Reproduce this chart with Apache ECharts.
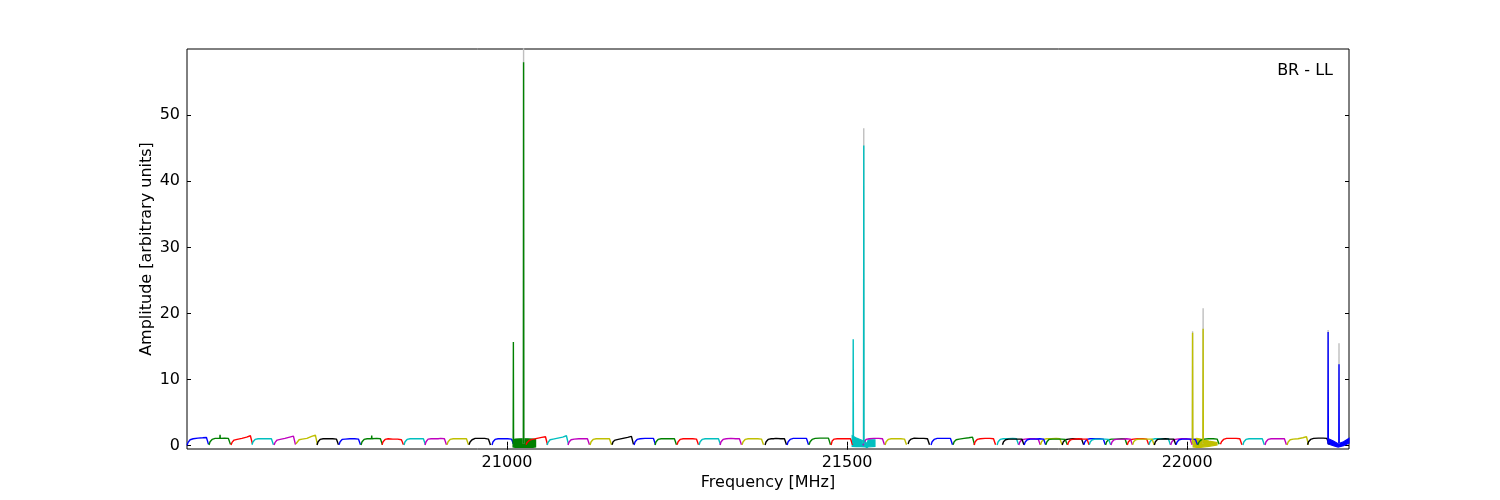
<!DOCTYPE html>
<html><head><meta charset="utf-8">
<script src="https://cdn.jsdelivr.net/npm/echarts@6/dist/echarts.min.js"></script>
<style>html,body{margin:0;padding:0;background:#fff}#c{width:1500px;height:500px}</style>
</head><body><div id="c"></div>
<script>
// ---------- data ----------
const xMin = 20529.4, xMax = 22238;
const yMin = -0.5, yMax = 60;
const xTicks = [21000, 21500, 22000];
const yTicks = [0, 10, 20, 30, 40, 50];
const panelLabel = 'BR - LL';
const xName = 'Frequency [MHz]';
const yName = 'Amplitude [arbitrary units]';

// offsets (MHz) from window start at which each window level is read
const sampleOffsets = [0, 1.5, 4.5, 9, 16, 23, 28.5, 31.5];

// spectral windows (non-flagged)
const winStart = [
  20529.5, 20561.8, 20594.1, 20625.0, 20657.4, 20689.7, 20720.6, 20753.0, 20785.3, 20816.2,
  20848.5, 20879.4, 20911.8, 20944.1, 20977.9, 21028.0, 21058.8, 21089.7, 21122.1, 21154.4,
  21186.8, 21217.6, 21250.0, 21282.4, 21313.2, 21345.6, 21379.4, 21411.8, 21444.1, 21476.5,
  21523.5, 21555.9, 21589.7, 21623.5, 21655.9, 21686.8,
  21720.6, 21752.5, 21784.4, 21816.3, 21848.2, 21880.1, 21912.0, 21943.9, 21975.8,
  21728.5, 21760.4, 21792.3, 21824.2, 21856.1, 21888.0, 21919.9, 21951.8, 21983.7, 22015.6,
  22049.0, 22082.0, 22114.5, 22147.0, 22177.0
];
const winColor = [
  'b','g','r','c','m','y','k','b','g','r',
  'c','m','y','k','b','r','c','m','y','k',
  'b','g','r','c','m','y','k','b','g','r',
  'm','y','k','b','g','r',
  'c','m','y','k','b','g','r','c','m',
  'k','b','g','r','c','m','y','k','b','g',
  'r','c','m','y','k'
];
const winLevels = [
  [0.05,0.5,0.9,1.05,1.15,1.2,1.25,0.2],
  [0.1,0.6,0.95,1.1,1.1,1.15,1.1,0.2],
  [0.1,0.5,0.85,0.95,1.1,1.3,1.5,0.3],
  [0.15,0.6,0.95,1.05,1.05,1.05,1.05,0.15],
  [0.1,0.5,0.85,0.95,1.1,1.3,1.45,0.15],
  [0.3,0.6,0.9,1.0,1.1,1.4,1.6,0.15],
  [0.1,0.6,0.95,1.05,1.05,1.05,1.0,0.15],
  [0.15,0.6,0.95,1.0,1.05,1.05,1.0,0.15],
  [0.1,0.6,0.95,1.05,1.05,1.1,1.05,0.15],
  [0.15,0.6,0.95,1.05,1.0,1.0,0.9,0.15],
  [0.1,0.6,0.95,1.05,1.05,1.05,1.05,0.15],
  [0.1,0.6,1.0,1.05,1.05,1.1,1.05,0.15],
  [0.15,0.6,0.95,1.05,1.05,1.05,1.05,0.15],
  [0.15,0.55,0.9,1.1,1.1,1.1,1.0,0.1],
  [0.1,0.6,0.95,1.05,1.05,1.05,1.0,0.3],
  [0.15,0.5,0.8,0.95,1.1,1.25,1.35,0.15],
  [0.1,0.5,0.9,1.0,1.15,1.3,1.5,0.2],
  [0.1,0.55,0.9,1.0,1.05,1.05,1.05,0.15],
  [0.1,0.6,0.95,1.05,1.05,1.05,1.05,0.15],
  [0.15,0.6,0.85,0.95,1.1,1.25,1.4,0.2],
  [0.1,0.6,0.95,1.05,1.1,1.1,1.1,0.15],
  [0.1,0.6,0.95,1.05,1.05,1.05,1.05,0.15],
  [0.15,0.6,0.95,1.05,1.05,1.05,1.0,0.15],
  [0.1,0.6,0.95,1.05,1.05,1.05,1.05,0.15],
  [0.1,0.6,0.95,1.05,1.1,1.05,1.05,0.15],
  [0.15,0.6,0.95,1.05,1.05,1.05,1.0,0.15],
  [0.1,0.6,0.95,1.05,1.1,1.05,1.05,0.15],
  [0.1,0.6,0.95,1.1,1.1,1.1,1.1,0.15],
  [0.15,0.6,0.95,1.1,1.15,1.15,1.15,0.15],
  [0.1,0.7,1.0,1.05,1.05,1.05,1.05,0.15],
  [0.05,0.6,0.95,1.05,1.1,1.1,1.05,0.15],
  [0.1,0.6,0.95,1.05,1.05,1.05,1.0,0.15],
  [0.25,0.7,1.0,1.15,1.1,1.1,1.05,0.15],
  [0.1,0.6,0.95,1.1,1.1,1.1,1.1,0.15],
  [0.15,0.6,0.9,1.0,1.1,1.2,1.3,0.15],
  [0.1,0.6,0.95,1.05,1.1,1.1,1.05,0.15],
  [0.1,0.6,0.95,1.05,1.05,1.1,1.05,0.15],
  [0.1,0.55,0.9,1.0,1.05,1.05,1.0,0.15],
  [0.15,0.6,0.95,1.05,1.05,1.1,1.05,0.2],
  [0.1,0.55,0.9,1.0,1.05,1.0,1.0,0.15],
  [0.15,0.6,0.95,1.05,1.05,1.05,1.0,0.15],
  [0.1,0.6,0.9,1.0,1.0,1.05,1.05,0.15],
  [0.1,0.55,0.9,1.0,1.05,1.05,1.0,0.15],
  [0.15,0.6,0.95,1.05,1.05,1.05,1.05,0.15],
  [0.1,0.55,0.9,1.0,1.05,1.05,1.0,0.15],
  [0.15,0.6,0.9,1.0,1.0,1.0,1.0,0.15],
  [0.1,0.55,0.9,1.0,1.0,1.05,1.0,0.15],
  [0.15,0.6,0.95,1.0,1.0,1.0,0.95,0.15],
  [0.1,0.55,0.9,1.0,1.05,1.0,1.0,0.15],
  [0.15,0.6,0.9,1.0,1.0,1.0,0.95,0.15],
  [0.1,0.55,0.9,1.0,1.0,1.05,1.0,0.15],
  [0.15,0.6,0.9,1.0,1.0,1.0,1.0,0.15],
  [0.1,0.6,0.95,1.0,1.05,1.0,1.0,0.15],
  [0.15,0.55,0.9,1.0,1.0,1.0,0.95,0.15],
  [0.1,0.5,0.85,1.0,1.05,1.05,1.0,0.2],
  [0.2,0.6,0.95,1.1,1.1,1.1,1.05,0.15],
  [0.1,0.6,0.95,1.05,1.05,1.05,1.05,0.15],
  [0.1,0.6,0.95,1.05,1.05,1.05,1.05,0.15],
  [0.1,0.55,0.9,1.0,1.05,1.2,1.35,0.15],
  [0.15,0.6,0.95,1.1,1.15,1.15,1.1,0.2]
];
// narrow RFI ticks inside good windows: [freq, base, peak, window index]
const smallSpikes = [
  [20578.0, 1.1, 1.65, 1],
  [20801.0, 1.05, 1.55, 8],
  [20899.0, 1.05, 1.35, 11],
  [21392.0, 1.05, 1.25, 26]
];

// flagged (noisy) windows: envelope of the dense data
const blockColor = ['g', 'c', 'y', 'b'];
const blockFreq = [
  [21008.8, 21012, 21020, 21030, 21038, 21042],
  [21507.5, 21513, 21520, 21527, 21529, 21531, 21541],
  [22008.8, 22014, 22020, 22032, 22044],
  [22207.0, 22215, 22222, 22230, 22238]
];
const blockLo = [
  [-0.2, -0.25, -0.25, -0.25, -0.25, -0.2],
  [-0.1, -0.15, -0.15, -0.2, -0.3, -0.2, -0.1],
  [-0.2, -0.25, -0.25, -0.1, 0.1],
  [0.3, 0.0, -0.2, 0.0, 0.4]
];
const blockHi = [
  [0.9, 1.0, 1.05, 1.05, 1.0, 0.9],
  [1.5, 1.2, 0.9, 0.6, 0.2, 0.9, 0.9],
  [0.9, 1.1, 1.0, 0.7, 0.5],
  [1.1, 0.7, 0.3, 0.6, 1.1]
];
// strong spikes in the flagged windows: [freq, peak, block index]
const spikes = [
  [21009.3, 15.7, 0], [21024.3, 58.0, 0],
  [21509.0, 16.1, 1], [21524.5, 45.4, 1],
  [22008.0, 17.1, 2], [22023.5, 17.7, 2],
  [22207.3, 17.2, 3], [22223.3, 12.3, 3]
];
// un-normalised spectrum (grey, drawn underneath)
const greySpikeFreq = [21024.3, 21524.5, 22008.0, 22023.5, 22207.3, 22223.3];
const greySpikePeak = [62.0, 48.0, 17.3, 20.8, 17.5, 15.5];

// ---------- styling ----------
const palette = {b:'#0000ff', g:'#008000', r:'#ff0000', c:'#00bfbf', m:'#bf00bf', y:'#bfbf00', k:'#000000'};
const FONT = 'DejaVu Sans';
const LW = 1.4;

const series = [];
const lineBase = {type:'line', xAxisIndex:0, yAxisIndex:0, showSymbol:false, symbol:'none', silent:true, animation:false, clip:true};

greySpikeFreq.forEach((f, i) => {
  series.push(Object.assign({}, lineBase, {
    data: [[f - 0.3, 0.3], [f, greySpikePeak[i]], [f + 0.3, 0.3]],
    lineStyle: {color:'#bfbfbf', width:LW}
  }));
});

winStart.forEach((s, i) => {
  const pts = sampleOffsets.map((o, j) => [s + o, winLevels[i][j]]);
  smallSpikes.filter(p => p[3] === i).forEach(p => {
    pts.push([p[0] - 0.35, p[1]], [p[0], p[2]], [p[0] + 0.35, p[1]]);
  });
  pts.sort((a, b) => a[0] - b[0]);
  series.push(Object.assign({}, lineBase, {
    data: pts,
    lineStyle: {color: palette[winColor[i]], width: LW}
  }));
});

series.push({
  type:'custom', xAxisIndex:0, yAxisIndex:0, silent:true, animation:false,
  data: blockColor.map((c, i) => [blockFreq[i][0], 0, i]),
  renderItem: function (params, api) {
    const i = api.value(2);
    const up = blockFreq[i].map((f, j) => api.coord([f, blockHi[i][j]]));
    const lo = blockFreq[i].map((f, j) => api.coord([f, blockLo[i][j]])).reverse();
    return {type:'polygon', shape:{points: up.concat(lo)},
      style:{fill: palette[blockColor[i]], stroke: palette[blockColor[i]], lineWidth: 1.2}};
  }
});

spikes.forEach(sp => {
  series.push(Object.assign({}, lineBase, {
    data: [[sp[0] - 0.3, 0.3], [sp[0], sp[1]], [sp[0] + 0.3, 0.3]],
    lineStyle: {color: palette[blockColor[sp[2]]], width: LW}
  }));
});

const tickStyle = {color:'#000', width:1};
const labelStyle = {color:'#000', fontFamily:FONT, fontSize:16};
const plain = v => String(v);

const option = {
  animation:false,
  backgroundColor:'#fff',
  grid: {left:187, right:151, top:49, bottom:51, show:true, borderColor:'#000', borderWidth:1, backgroundColor:'transparent', containLabel:false, outerBoundsMode:'none'},
  xAxis: [
    {type:'value', min:xMin, max:xMax, position:'bottom', gridIndex:0,
     axisLine:{show:false}, splitLine:{show:false},
     axisTick:{show:true, inside:true, length:4, lineStyle:tickStyle, customValues:xTicks},
     axisLabel:Object.assign({show:true, margin:6, customValues:xTicks, formatter:plain}, labelStyle),
     name:xName, nameLocation:'middle', nameGap:26, nameMoveOverlap:false, nameTextStyle:labelStyle},
    {type:'value', min:xMin, max:xMax, position:'top', gridIndex:0,
     axisLine:{show:false}, splitLine:{show:false},
     axisTick:{show:true, inside:true, length:4, lineStyle:tickStyle, customValues:xTicks},
     axisLabel:{show:false}}
  ],
  yAxis: [
    {type:'value', min:yMin, max:yMax, position:'left', gridIndex:0,
     axisLine:{show:false}, splitLine:{show:false},
     axisTick:{show:true, inside:true, length:4, lineStyle:tickStyle, customValues:yTicks},
     axisLabel:Object.assign({show:true, margin:7, customValues:yTicks, formatter:plain}, labelStyle),
     name:yName, nameLocation:'middle', nameGap:32, nameMoveOverlap:false, nameTextStyle:labelStyle},
    {type:'value', min:yMin, max:yMax, position:'right', gridIndex:0,
     axisLine:{show:false}, splitLine:{show:false},
     axisTick:{show:true, inside:true, length:4, lineStyle:tickStyle, customValues:yTicks},
     axisLabel:{show:false}}
  ],
  graphic: [{type:'text', right:167, top:63, silent:true,
    style:{text:panelLabel, font:'16px "DejaVu Sans"', fill:'#000'}}],
  series: series
};
const chart = echarts.init(document.getElementById('c'), null, {renderer:'canvas'});
chart.setOption(option);
</script>
</body></html>
